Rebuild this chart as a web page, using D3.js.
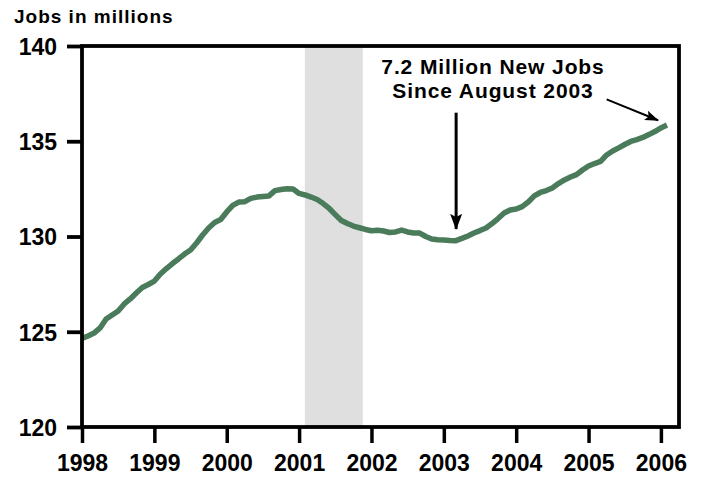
<!DOCTYPE html>
<html>
<head>
<meta charset="utf-8">
<script src="https://cdn.jsdelivr.net/npm/d3@7"></script>
<style>
  body { margin: 0; background: #fff; }
  svg { display: block; font-family: "Liberation Sans", Arial, Helvetica, sans-serif; font-weight: bold; }
</style>
</head>
<body>
<svg id="chart" width="704" height="477"></svg>
<script>
// Monthly nonfarm payroll jobs (millions), starting January 1998
const startYear = 1998;
const jobs = [
  124.65, 124.78, 124.93, 125.20, 125.67, 125.88, 126.09, 126.46, 126.72, 127.03, 127.32, 127.48,
  127.66, 128.03, 128.32, 128.58, 128.82, 129.08, 129.29, 129.66, 130.08, 130.45, 130.74, 130.89,
  131.29, 131.63, 131.81, 131.83, 132.00, 132.07, 132.10, 132.13, 132.41, 132.47, 132.51, 132.49,
  132.26, 132.18, 132.07, 131.94, 131.73, 131.47, 131.15, 130.84, 130.68, 130.55, 130.46, 130.37,
  130.30, 130.33, 130.29, 130.21, 130.24, 130.34, 130.24, 130.18, 130.18, 130.00, 129.87, 129.83,
  129.81, 129.79, 129.78, 129.90, 130.03, 130.18, 130.31, 130.45, 130.68, 130.94, 131.23, 131.39,
  131.44, 131.57, 131.81, 132.13, 132.31, 132.41, 132.55, 132.78, 132.97, 133.12, 133.25, 133.49,
  133.70, 133.83, 133.94, 134.28, 134.49, 134.65, 134.83, 134.99, 135.09, 135.20, 135.35, 135.51,
  135.70, 135.85
];

// recession band (fractional years)
const recession = [2001.08, 2001.88];

const yearTicks = [1998, 1999, 2000, 2001, 2002, 2003, 2004, 2005, 2006];
const jobTicks = [120, 125, 130, 135, 140];

const noteLines = ["7.2 Million New Jobs", "Since August 2003"];
// arrows: [fromYear, fromValue, toYear, toValue]
const arrowDown = [2003.17, 136.5, 2003.17, 130.4];
const arrowRight = [2005.25, 137.2, 2005.96, 136.1];

const svg = d3.select("#chart");

const x = d3.scaleLinear().domain([1998, 2006.25]).range([82, 679]);
const y = d3.scaleLinear().domain([120, 140]).range([427, 46]);

const points = jobs.map((v, i) => ({ t: startYear + i / 12, v: v }));

// recession shading
svg.append("rect")
  .attr("x", x(recession[0]))
  .attr("y", y(140))
  .attr("width", x(recession[1]) - x(recession[0]))
  .attr("height", y(120) - y(140))
  .attr("fill", "#dfdfdf");

// jobs line
svg.append("path")
  .datum(points)
  .attr("fill", "none")
  .attr("stroke", "#4a7b5b")
  .attr("stroke-width", 5.5)
  .attr("stroke-linejoin", "round")
  .attr("d", d3.line().x(d => x(d.t)).y(d => y(d.v)));

// frame
svg.append("rect")
  .attr("x", x(1998))
  .attr("y", y(140))
  .attr("width", x(2006.25) - x(1998))
  .attr("height", y(120) - y(140))
  .attr("fill", "none")
  .attr("stroke", "#000")
  .attr("stroke-width", 3.8);

// x axis
const xAxis = svg.append("g")
  .attr("transform", `translate(0,${y(120)})`)
  .call(d3.axisBottom(x).tickValues(yearTicks).tickFormat(d3.format("d")).tickSize(16).tickPadding(12));
xAxis.select(".domain").remove();
xAxis.selectAll("line").attr("stroke", "#000").attr("stroke-width", 3.5);
xAxis.selectAll("text")
  .attr("fill", "#000")
  .style("font-size", "23px")
  .style("font-family", "inherit");

// y axis
const yAxis = svg.append("g")
  .attr("transform", `translate(${x(1998)},0)`)
  .call(d3.axisLeft(y).tickValues(jobTicks).tickSize(15).tickPadding(10));
yAxis.select(".domain").remove();
yAxis.selectAll("line").attr("stroke", "#000").attr("stroke-width", 3.8);
yAxis.selectAll("text")
  .attr("fill", "#000")
  .attr("dy", "0.36em")
  .style("font-size", "23px")
  .style("font-family", "inherit");

// unit label
svg.append("text")
  .attr("x", 14)
  .attr("y", 23)
  .style("font-size", "19px")
  .style("letter-spacing", "1px")
  .text("Jobs in millions");

// annotation text
svg.selectAll(".note")
  .data(noteLines)
  .enter().append("text")
  .attr("class", "note")
  .attr("x", 493)
  .attr("y", (d, i) => 74 + i * 23.5)
  .attr("text-anchor", "middle")
  .style("font-size", "21px")
  .style("letter-spacing", "0.9px")
  .text(d => d);

// arrow heads
const defs = svg.append("defs");
defs.append("marker")
  .attr("id", "headBig")
  .attr("markerUnits", "userSpaceOnUse")
  .attr("viewBox", "0 0 16 12")
  .attr("refX", 15).attr("refY", 6)
  .attr("markerWidth", 16).attr("markerHeight", 12)
  .attr("orient", "auto")
  .append("path")
  .attr("d", "M0,0 L16,6 L0,12 L3,6 Z")
  .attr("fill", "#000");
defs.append("marker")
  .attr("id", "headSmall")
  .attr("markerUnits", "userSpaceOnUse")
  .attr("viewBox", "0 0 14 10")
  .attr("refX", 13).attr("refY", 5)
  .attr("markerWidth", 14).attr("markerHeight", 10)
  .attr("orient", "auto")
  .append("path")
  .attr("d", "M0,0 L14,5 L0,10 L3,5 Z")
  .attr("fill", "#000");

svg.append("line")
  .attr("x1", x(arrowDown[0])).attr("y1", y(arrowDown[1]))
  .attr("x2", x(arrowDown[2])).attr("y2", y(arrowDown[3]))
  .attr("stroke", "#000").attr("stroke-width", 3)
  .attr("marker-end", "url(#headBig)");

svg.append("line")
  .attr("x1", x(arrowRight[0])).attr("y1", y(arrowRight[1]))
  .attr("x2", x(arrowRight[2])).attr("y2", y(arrowRight[3]))
  .attr("stroke", "#000").attr("stroke-width", 2)
  .attr("marker-end", "url(#headSmall)");
</script>
</body>
</html>
